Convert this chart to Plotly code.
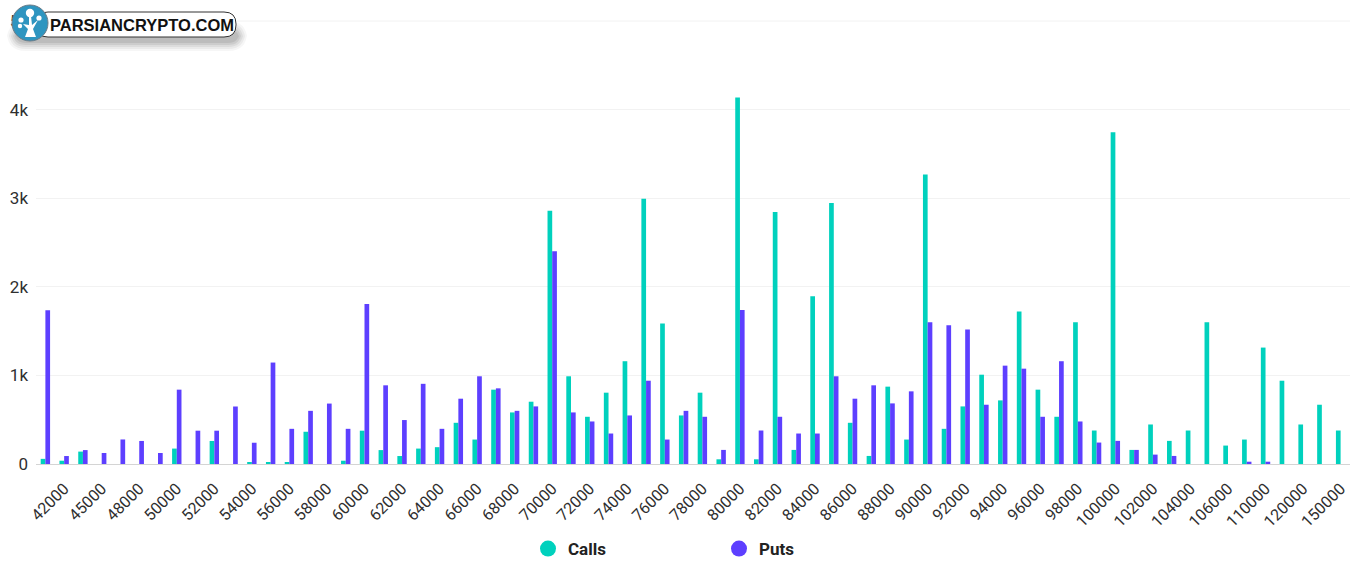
import plotly.graph_objects as go

strikes = [40000, 42000, 44000, 45000, 46000, 48000, 49000] + list(range(50000, 107000, 1000)) + [108000, 110000, 115000, 120000, 130000, 150000]
strike_labels = [str(s) for s in strikes]
tick_labels = strike_labels[1::2]

calls = [58, 37, 140, 0, 0, 0, 0, 174, 0, 260, 0, 20, 20, 20, 364, 0, 37, 376, 157, 90, 174, 190,
         465, 276, 839, 582, 703, 2859, 990, 533, 805, 1160, 2995, 1586, 548, 805, 53, 4136, 53, 2844, 159, 1892, 2946, 465, 91, 873,
         276, 3267, 397, 650, 1008, 718, 1722, 839, 533, 1601, 378, 3743, 159, 446, 261, 378, 1601, 208, 276, 1314, 940, 446, 669, 378]
puts = [1735, 90, 157, 124, 277, 260, 124, 839, 376, 376, 649, 240, 1145, 397, 600, 682, 397, 1806, 888, 496, 905, 397,
        737, 990, 854, 600, 650, 2402, 582, 480, 344, 548, 940, 276, 600, 533, 159, 1737, 378, 533, 344, 344, 990, 737, 888, 684,
        820, 1601, 1567, 1518, 669, 1110, 1076, 533, 1160, 480, 242, 261, 159, 106, 91, 0, 0, 0, 26, 26, 0, 0, 0, 0]

CALL_COLOR = "#00D1BD"
PUT_COLOR = "#5D3FFF"
PLOT_X0, PLOT_X1 = 36, 1350
PLOT_Y0, PLOT_Y1 = 21, 464
W, H = 1353, 572
L, R, T, B = PLOT_X0, W - PLOT_X1, PLOT_Y0, H - PLOT_Y1

def px(x):
    return (x - PLOT_X0) / (PLOT_X1 - PLOT_X0)
def py(y):
    return 1 - (y - PLOT_Y0) / (PLOT_Y1 - PLOT_Y0)

fig = go.Figure()
fig.add_bar(x=strike_labels, y=calls, name="Calls", marker_color=CALL_COLOR, marker_line_width=0, legendgroup="c", showlegend=False)
fig.add_bar(x=strike_labels, y=puts, name="Puts", marker_color=PUT_COLOR, marker_line_width=0, legendgroup="p", showlegend=False)
fig.add_scatter(x=[None], y=[None], mode="markers", name="Calls", legendgroup="c",
                marker=dict(color=CALL_COLOR, size=18, symbol="circle"))
fig.add_scatter(x=[None], y=[None], mode="markers", name="Puts", legendgroup="p",
                marker=dict(color=PUT_COLOR, size=18, symbol="circle"))

shapes = []
PW, PH = PLOT_X1 - PLOT_X0, PLOT_Y1 - PLOT_Y0
def rect_path(x0, y0, x1, y1, r):
    X0, X1, Y0, Y1 = px(x0), px(x1), py(y0), py(y1)
    rx, ry = r / PW, r / PH
    return (f"M{X0+rx},{Y0} L{X1-rx},{Y0} Q{X1},{Y0} {X1},{Y0-ry} L{X1},{Y1+ry} Q{X1},{Y1} {X1-rx},{Y1} "
            f"L{X0+rx},{Y1} Q{X0},{Y1} {X0},{Y1+ry} L{X0},{Y0-ry} Q{X0},{Y0} {X0+rx},{Y0} Z")
def circle(cx, cy, r, color, line=None):
    shapes.append(dict(type="circle", xref="paper", yref="paper", x0=px(cx-r), x1=px(cx+r), y0=py(cy+r), y1=py(cy-r),
                       fillcolor=color, layer="above", line=dict(width=1 if line else 0, color=line or color)))
# top gridline drawn over the plot's upper edge
shapes.append(dict(type="line", xref="paper", yref="paper", x0=0, x1=1, y0=1, y1=1, line=dict(color="#f2f2f2", width=1), layer="below"))
# logo shadow
for g, op in [(9, .05), (7, .07), (5, .09), (3, .11), (1, .13)]:
    shapes.append(dict(type="path", xref="paper", yref="paper", path=rect_path(16-g, 30-g, 238+g, 42+g, 10+g),
                       fillcolor="#555555", opacity=op, line_width=0, layer="above"))
shapes.append(dict(type="path", xref="paper", yref="paper", path=rect_path(36, 12, 236, 37, 12),
                   fillcolor="white", line=dict(color="#333333", width=1), layer="above"))
circle(30, 23, 18, "#2E95C0", "#6b7c88")
# logo tree glyph
circle(30, 13, 4.2, "white"); circle(21, 20, 2.6, "white"); circle(39, 18, 2.6, "white"); circle(20, 26, 2.2, "white")
shapes.append(dict(type="path", xref="paper", yref="paper", fillcolor="white", line_width=0, layer="above",
                   path=f"M{px(25)},{py(37)} L{px(28)},{py(29)} L{px(23)},{py(24)} L{px(29)},{py(25)} L{px(29)},{py(16)} L{px(31)},{py(16)} L{px(32)},{py(25)} L{px(38)},{py(20)} L{px(33)},{py(29)} L{px(36)},{py(37)} Z"))

fig.update_layout(
    width=W, height=H, barmode="group", bargap=0.5, bargroupgap=0,
    margin=dict(l=L, r=R, t=T, b=B, pad=0),
    paper_bgcolor="white", plot_bgcolor="white",
    font=dict(family="Roboto", size=15, color="#2f2f2f"),
    shapes=shapes,
    annotations=[dict(xref="paper", yref="paper", x=px(141.5), y=py(25), text="<b>PARSIANCRYPTO.COM</b>", showarrow=False,
                      font=dict(family="Liberation Sans", size=16.5, color="#111111"), xanchor="center", yanchor="middle")],
    legend=dict(orientation="h", x=px(528), xanchor="left", y=py(549), yanchor="middle", entrywidth=146, entrywidthmode="pixels",
                font=dict(family="Roboto", size=17, weight=700, color="#222222"), itemclick=False, itemdoubleclick=False),
    xaxis=dict(type="category", categoryorder="array", categoryarray=strike_labels, tickmode="array", tickvals=tick_labels, ticktext=tick_labels,
               tickangle=-45, showgrid=False, zeroline=False, showline=True, linecolor="#d4d4d4", linewidth=1, ticks="", ticklabelstandoff=8,
               tickfont=dict(family="Roboto", size=16, color="#2f2f2f")),
    yaxis=dict(range=[0, 5000], tick0=0, dtick=1000, tickformat="~s", showgrid=True, gridcolor="#f2f2f2", gridwidth=1,
               zeroline=False, showline=False, ticks="", ticklabelstandoff=7,
               tickfont=dict(family="Roboto", size=17, color="#2f2f2f")),
)
fig.write_html("out.html", config={"displayModeBar": False}, post_script="document.body.style.margin='0';")
